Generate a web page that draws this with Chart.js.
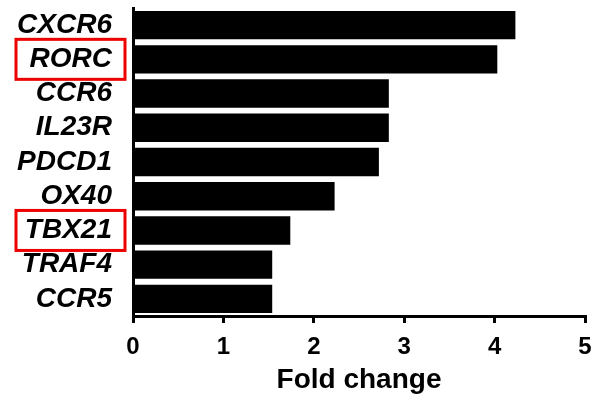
<!DOCTYPE html>
<html>
<head>
<meta charset="utf-8">
<script src="https://cdn.jsdelivr.net/npm/chart.js@4.4.0/dist/chart.umd.min.js"></script>
<style>
  html, body { margin: 0; padding: 0; background: #fff; }
  #wrap { width: 595px; height: 408px; position: relative; }
</style>
</head>
<body>
<div id="wrap"><canvas id="foldChart"></canvas></div>
<script>
const genes = ['CXCR6', 'RORC', 'CCR6', 'IL23R', 'PDCD1', 'OX40', 'TBX21', 'TRAF4', 'CCR5'];
const foldChange = [4.23, 4.03, 2.83, 2.83, 2.72, 2.23, 1.74, 1.54, 1.54];
const highlighted = ['RORC', 'TBX21'];
const xTicks = [0, 1, 2, 3, 4, 5];

const FONT = "'Liberation Sans', Arial, sans-serif";

// red frames round the highlighted gene names
const boxPlugin = {
  id: 'labelBoxes',
  afterDraw: function(chart) {
    const ctx = chart.ctx;
    const y = chart.scales.y;
    ctx.save();
    ctx.strokeStyle = '#ee0000';
    ctx.lineWidth = 3;
    highlighted.forEach(function(g) {
      const idx = genes.indexOf(g);
      const py = y.getPixelForValue(idx);
      ctx.strokeRect(16, py - 20, 109, 40);
    });
    ctx.restore();
  }
};

const ctx = document.getElementById('foldChart').getContext('2d');
const chart = new Chart(ctx, {
  type: 'bar',
  data: {
    labels: genes,
    datasets: [{
      data: foldChange,
      backgroundColor: '#000',
      borderWidth: 0,
      barPercentage: 0.83,
      categoryPercentage: 1.0
    }]
  },
  options: {
    indexAxis: 'y',
    responsive: true,
    maintainAspectRatio: false,
    animation: false,
    layout: { padding: { top: 8, right: 10, left: 0, bottom: 8 } },
    plugins: {
      legend: { display: false },
      tooltip: { enabled: false }
    },
    scales: {
      x: {
        min: 0,
        max: 5,
        afterBuildTicks: function(scale) {
          scale.ticks = xTicks.map(function(v) { return { value: v }; });
        },
        border: { display: true, color: '#000', width: 3 },
        grid: {
          display: true,
          drawOnChartArea: false,
          drawTicks: true,
          tickLength: 7,
          lineWidth: 3,
          color: '#000'
        },
        ticks: {
          color: '#000',
          padding: 10,
          font: { family: FONT, size: 24, weight: 'bold' }
        },
        title: {
          display: true,
          text: 'Fold change',
          color: '#000',
          padding: { top: 0, bottom: 3 },
          font: { family: FONT, size: 28, weight: 'bold' }
        },
        afterFit: function(scale) {
          scale.height = 84;
          scale.paddingLeft = 0;
          scale.paddingRight = 0;
        }
      },
      y: {
        border: { display: true, color: '#000', width: 3 },
        grid: { display: false, drawTicks: false },
        ticks: {
          color: '#000',
          padding: 21,
          autoSkip: false,
          font: { family: FONT, size: 28, weight: 'bold', style: 'italic' }
        },
        afterFit: function(scale) {
          scale.width = 133;
          scale.paddingTop = 0;
          scale.paddingBottom = 0;
        }
      }
    }
  },
  plugins: [boxPlugin]
});
</script>
</body>
</html>
